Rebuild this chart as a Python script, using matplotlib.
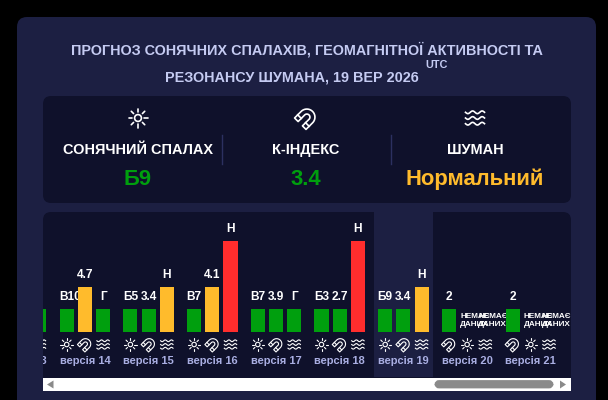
import numpy as np
import matplotlib
matplotlib.use('Agg')
import matplotlib.pyplot as plt
from matplotlib.patches import FancyBboxPatch, Rectangle, Circle, Polygon

plt.rcParams['font.family'] = ['Liberation Sans', 'DejaVu Sans']
plt.rcParams['font.weight'] = 'bold'

W, H = 608, 400
CARD = '#1c1f42'
PANEL = '#0f112b'
GREEN = '#009f0e'
ORANGE = '#ffbb2c'
RED = '#ff2d2d'
TITLE = '#c5cbf2'
LABEL = '#a9aee2'

# top summary row
title_lines = ['ПРОГНОЗ СОНЯЧНИХ СПАЛАХІВ, ГЕОМАГНІТНОЇ АКТИВНОСТІ ТА',
               'РЕЗОНАНСУ ШУМАНА, 19 ВЕР 2026']
summary_names = ['СОНЯЧНИЙ СПАЛАХ', 'К-ІНДЕКС', 'ШУМАН']
summary_values = ['Б9', '3.4', 'Нормальний']
summary_colors = [GREEN, GREEN, ORANGE]

# one entry per forecast version, three slots in each group
versions = [13, 14, 15, 16, 17, 18, 19, 20, 21]
highlight = 19
slot1_labels = ['', 'В10', 'Б5', 'В7', 'В7', 'Б3', 'Б9', '2', '2']
slot1_levels = [1, 1, 1, 1, 1, 1, 1, 1, 1]
slot2_labels = ['', '4.7', '3.4', '4.1', '3.9', '2.7', '3.4', 'НЕМАЄ\nДАНИХ', 'НЕМАЄ\nДАНИХ']
slot2_levels = [1, 2, 1, 2, 1, 1, 1, 0, 0]
slot3_labels = ['', 'Г', 'Н', 'Н', 'Г', 'Н', 'Н', 'НЕМАЄ\nДАНИХ', 'НЕМАЄ\nДАНИХ']
slot3_levels = [1, 1, 2, 4, 1, 4, 2, 0, 0]
level_colors = {1: GREEN, 2: ORANGE, 4: RED}


def draw_sun(ax, cx, cy, s, lw):
    ax.add_patch(Circle((cx, cy), 0.36 * s, fill=False, ec='white', lw=lw))
    for a in np.arange(8) * np.pi / 4:
        ax.plot([cx + 0.66 * s * np.cos(a), cx + s * np.cos(a)],
                [cy + 0.66 * s * np.sin(a), cy + s * np.sin(a)],
                color='white', lw=lw, solid_capstyle='round')


def draw_magnet(ax, cx, cy, s, lw):
    # horseshoe opening to the lower left; y axis points down on these axes
    t = np.linspace(0, np.pi, 30)
    outer = np.c_[np.cos(t), 0.15 + np.sin(t)]
    inner = np.c_[0.38 * np.cos(t[::-1]), 0.15 + 0.38 * np.sin(t[::-1])]
    shape = np.r_[[[1, -1]], outer, [[-1, -1], [-0.38, -1]], inner, [[0.38, -1], [1, -1]]]
    rot = np.deg2rad(-45)
    R = np.array([[np.cos(rot), -np.sin(rot)], [np.sin(rot), np.cos(rot)]])
    to_px = lambda p: (p @ R.T) * [0.85 * s, -0.85 * s] + [cx, cy]
    ax.add_patch(Polygon(to_px(shape), closed=True, fill=False, ec='white', lw=lw,
                         joinstyle='round'))
    for seg in ([[-1, -0.45], [-0.38, -0.45]], [[0.38, -0.45], [1, -0.45]]):
        pts = to_px(np.array(seg))
        ax.plot(pts[:, 0], pts[:, 1], color='white', lw=lw)


def draw_waves(ax, cx, cy, s, lw):
    x = np.linspace(-s, s, 40)
    for off in (-0.6, 0, 0.6):
        ax.plot(cx + x, cy + off * s + 0.14 * s * np.sin(x / s * 2 * np.pi),
                color='white', lw=lw)


icon_funcs = {'sun': draw_sun, 'magnet': draw_magnet, 'waves': draw_waves}

fig = plt.figure(figsize=(W / 100, H / 100), dpi=100, facecolor='black')

# page layout is drawn in pixel coords, y pointing down
bg = fig.add_axes([0, 0, 1, 1], zorder=0)
bg.set_xlim(0, W)
bg.set_ylim(H, 0)
bg.axis('off')
bg.add_patch(FancyBboxPatch((27, 27), 559, 400, boxstyle='round,pad=10,rounding_size=10',
                            fc=CARD, ec='none'))
bg.add_patch(FancyBboxPatch((51, 104), 512, 91, boxstyle='round,pad=8,rounding_size=8',
                            fc=PANEL, ec='none'))
bg.add_patch(FancyBboxPatch((51, 220), 512, 163, boxstyle='round,pad=8,rounding_size=8',
                            fc=PANEL, ec='none'))

bg.text(306.5, 50, title_lines[0], color=TITLE, fontsize=10.4, ha='center', va='center')
bg.text(165, 78, title_lines[1], color=TITLE, fontsize=10.4, ha='left', va='center')
bg.text(437, 65, 'UTC', color=TITLE, fontsize=7.8, ha='center', va='center')

summary_x = [138, 306, 475]
for cx, name, val, col, icon in zip(summary_x, summary_names, summary_values,
                                    summary_colors, ['sun', 'magnet', 'waves']):
    icon_funcs[icon](bg, cx, 118, 9.5, 1.2)
    bg.text(cx, 150, name, color='white', fontsize=10.45, ha='center', va='center')
    bg.text(cx, 179.5, val, color=col, fontsize=15.8, ha='center', va='center')
for sx in (222, 390.7):
    bg.plot([sx, sx], [135, 164], color='#2c3060', lw=1)

# chart area: x unit is one bar slot, y unit is one level
slot_px = 18.2
level_px = 22.7
base_px = 332
origin_px = 3.0
chart_l, chart_r, chart_t, chart_b = 43, 571, 212, 377
ax = fig.add_axes([chart_l / W, 1 - chart_b / H, (chart_r - chart_l) / W, (chart_b - chart_t) / H],
                  zorder=1)
ax.patch.set_alpha(0)
ax.axis('off')
x0 = (chart_l - origin_px) / slot_px
ax.set_xlim(x0, x0 + (chart_r - chart_l) / slot_px)
ax.set_ylim((base_px - chart_b) / level_px, (base_px - chart_t) / level_px)

for i, v in enumerate(versions):
    left = i * 3.5
    if v == highlight:
        ax.axvspan(left - 0.62, left + 2.6, color=CARD, lw=0, zorder=0)
    labels = [slot1_labels[i], slot2_labels[i], slot3_labels[i]]
    levels = [slot1_levels[i], slot2_levels[i], slot3_levels[i]]
    for j in range(3):
        xpos = left + j
        if levels[j]:
            ax.bar(xpos, levels[j], width=0.77, color=level_colors[levels[j]], zorder=3)
            # text wider than its bar starts at the bar's left edge and runs under the next bar
            wide = labels[j] == 'В10'
            ax.text(xpos - 0.385 if wide else xpos, levels[j] + 0.52, labels[j], color='white',
                    fontsize=8.6, ha='left' if wide else 'center', va='center', zorder=2)
        elif labels[j]:
            ax.text(xpos - 0.39, 0.5, labels[j], color='white', fontsize=5.9, ha='left',
                    va='center', linespacing=1.15, zorder=2, clip_on=True)
    ax.text(left + 1, -1.26, f'версія {v}', color=LABEL, fontsize=8.0, ha='center',
            va='center', clip_on=True, zorder=2)

# bar-group icons, in pixel coords on an overlay clipped to the chart
ov = fig.add_axes(ax.get_position(), zorder=2)
ov.patch.set_alpha(0)
ov.axis('off')
ov.set_xlim(chart_l, chart_r)
ov.set_ylim(chart_b, chart_t)
for i, v in enumerate(versions):
    icons = ['magnet', 'sun', 'waves'] if slot2_levels[i] == 0 else ['sun', 'magnet', 'waves']
    for j, name in enumerate(icons):
        px = origin_px + slot_px * (i * 3.5 + j)
        if chart_l - 7 < px < chart_r + 7:
            icon_funcs[name](ov, px, 344.5, 6.2, 0.8)

# horizontal scroll bar
bar = fig.add_axes([0, 0, 1, 1], zorder=3)
bar.set_xlim(0, W)
bar.set_ylim(H, 0)
bar.axis('off')
bar.patch.set_alpha(0)
bar.add_patch(Rectangle((43, 378), 528, 13, fc='white', ec='none'))
bar.add_patch(FancyBboxPatch((436, 381.5), 116, 5.5, boxstyle='round,pad=0,rounding_size=3',
                             fc='#8a8a8a', ec='#8a8a8a', lw=2))
bar.add_patch(Polygon([[47, 384.5], [53.5, 380.5], [53.5, 388.5]], fc='#8a8a8a', ec='none'))
bar.add_patch(Polygon([[566, 384.5], [560, 380.5], [560, 388.5]], fc='#8a8a8a', ec='none'))

fig.savefig('out.png', dpi=100, facecolor='black')
